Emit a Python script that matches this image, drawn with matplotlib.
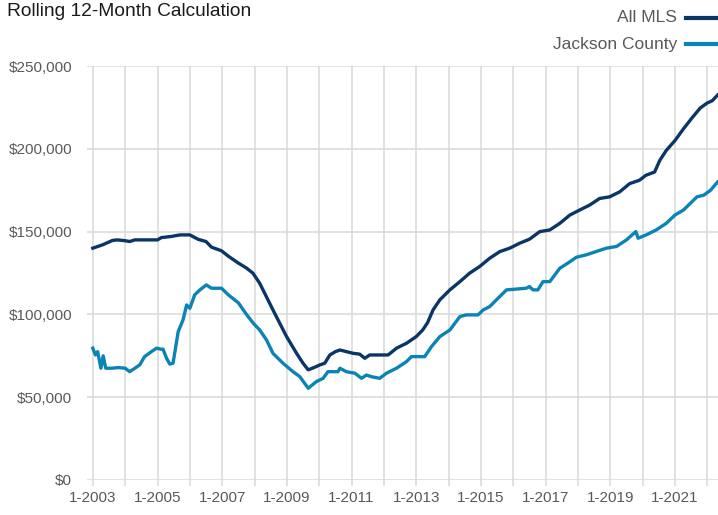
import matplotlib
matplotlib.use("Agg")
import matplotlib.pyplot as plt
from matplotlib.lines import Line2D
from matplotlib.ticker import FuncFormatter, MultipleLocator

plt.rcParams['font.family'] = ['Liberation Sans', 'DejaVu Sans']

title = "Rolling 12-Month Calculation"
series_names = ["All MLS", "Jackson County"]
colors = ["#0b3566", "#0a84b5"]

mls_x = [2003.0, 2003.3, 2003.6, 2003.75, 2004.0, 2004.14, 2004.3, 2004.6, 2005.0, 2005.12,
         2005.4, 2005.7, 2006.0, 2006.25, 2006.5, 2006.67, 2006.98, 2007.2, 2007.5, 2007.75,
         2007.95, 2008.16, 2008.57, 2008.99, 2009.3, 2009.5, 2009.66, 2009.85, 2010.02, 2010.17,
         2010.33, 2010.5, 2010.64, 2011.05, 2011.25, 2011.41, 2011.56, 2012.13, 2012.39, 2012.7,
         2013.0, 2013.2, 2013.35, 2013.52, 2013.73, 2014.04, 2014.35, 2014.65, 2014.96, 2015.27,
         2015.58, 2015.89, 2016.2, 2016.5, 2016.82, 2017.13, 2017.44, 2017.75, 2018.05, 2018.36,
         2018.67, 2018.98, 2019.29, 2019.6, 2019.9, 2020.1, 2020.37, 2020.53, 2020.73, 2021.0,
         2021.26, 2021.52, 2021.78, 2021.99, 2022.15, 2022.32]
mls_v = [140.0, 142.0, 144.6, 145.0, 144.5, 144.0, 145.0, 145.0, 145.0, 146.4,
         147.0, 148.0, 148.0, 145.4, 144.0, 140.6, 138.4, 135.0, 131.0, 128.0,
         124.9, 118.8, 102.7, 86.6, 76.5, 70.5, 66.5, 68.0, 69.5, 70.5,
         75.5, 77.5, 78.5, 76.5, 76.0, 73.5, 75.5, 75.5, 79.6, 82.6,
         86.6, 90.6, 95.0, 102.7, 108.8, 114.8, 119.8, 124.9, 128.9, 133.9,
         137.9, 140.0, 143.0, 145.4, 150.0, 151.0, 155.0, 160.0, 163.0, 166.0,
         170.0, 171.0, 174.0, 179.0, 181.0, 184.0, 186.0, 193.0, 199.0, 205.0,
         212.0, 218.5, 224.6, 227.6, 229.0, 232.5]

jc_x = [2003.0, 2003.08, 2003.15, 2003.25, 2003.32, 2003.4, 2003.6, 2003.78, 2004.0, 2004.14,
        2004.3, 2004.45, 2004.6, 2004.81, 2004.97, 2005.1, 2005.17, 2005.28, 2005.38, 2005.48,
        2005.64, 2005.79, 2005.9, 2006.0, 2006.15, 2006.31, 2006.51, 2006.67, 2006.98, 2007.19,
        2007.5, 2007.75, 2007.96, 2008.16, 2008.37, 2008.57, 2008.88, 2009.19, 2009.4, 2009.66,
        2009.91, 2010.12, 2010.27, 2010.58, 2010.64, 2010.84, 2011.1, 2011.31, 2011.46, 2011.61,
        2011.87, 2012.08, 2012.39, 2012.7, 2012.85, 2013.26, 2013.47, 2013.73, 2014.04, 2014.35,
        2014.55, 2014.91, 2015.07, 2015.27, 2015.48, 2015.79, 2016.4, 2016.5, 2016.61, 2016.76,
        2016.92, 2017.13, 2017.44, 2017.69, 2017.95, 2018.26, 2018.57, 2018.88, 2019.19, 2019.5,
        2019.79, 2019.86, 2020.11, 2020.42, 2020.73, 2021.0, 2021.26, 2021.47, 2021.68, 2021.89,
        2022.1, 2022.32]
jc_v = [79.6, 75.5, 77.5, 67.5, 75.0, 67.5, 67.5, 67.9, 67.5, 65.4,
        67.5, 69.5, 74.5, 77.5, 79.6, 79.0, 79.0, 73.5, 70.0, 70.5,
        89.6, 96.7, 105.7, 103.7, 111.8, 114.8, 117.8, 115.8, 115.8, 111.8,
        107.0, 100.0, 94.7, 90.6, 84.6, 76.5, 70.5, 65.4, 62.4, 55.4,
        59.4, 61.4, 65.4, 65.4, 67.5, 65.4, 64.5, 61.4, 63.4, 62.4,
        61.4, 64.5, 67.5, 71.5, 74.5, 74.5, 80.5, 86.6, 90.6, 98.7,
        99.7, 99.7, 102.7, 104.7, 108.8, 114.8, 115.8, 116.8, 114.8, 114.8,
        119.8, 119.8, 127.9, 131.0, 134.5, 136.0, 138.0, 140.0, 141.0, 145.0,
        150.0, 146.0, 148.0, 151.0, 155.0, 160.0, 163.0, 167.0, 171.0, 172.0,
        175.0, 180.0]

years = list(range(2003, 2023))
label_years = list(range(2003, 2022, 2))

fig = plt.figure(figsize=(7.18, 5.15), dpi=100)
ax = fig.add_axes([87/718, 1 - 480/515, 1 - 87/718, (480 - 66)/515])

grid_c = "#d9d9d9"
ax.plot(mls_x, [v * 1000 for v in mls_v], color=colors[0], lw=2.4, solid_joinstyle='round', zorder=3)
ax.plot(jc_x, [v * 1000 for v in jc_v], color=colors[1], lw=2.4, solid_joinstyle='round', zorder=3)

ax.set_xlim(2002.82, 2022.33)
ax.set_ylim(0, 250000)
ax.yaxis.set_major_locator(MultipleLocator(50000))
ax.yaxis.set_major_formatter(FuncFormatter(lambda v, p: f"${int(v):,}"))
ax.set_xticks(years)
ax.set_xticklabels([f"1-{y}" if y in label_years else "" for y in years])
ax.grid(True, color=grid_c, lw=1.1)
ax.set_axisbelow(True)
for s in ax.spines.values():
    s.set_visible(False)
ax.tick_params(axis='x', length=4.3, width=1.1, color=grid_c, labelsize=11, labelcolor="#595959", pad=3.5)
ax.tick_params(axis='y', length=0, labelsize=11, labelcolor="#595959", pad=10.8)

fig.text(7/718, 1 - 12/515, title, fontsize=13.8, color="#1a1a1a", va='center', ha='left')

for i, (name, c) in enumerate(zip(series_names, colors)):
    yc = 1 - (18 + 26 * i) / 515
    fig.text(677/718, yc, name, fontsize=12.5, color="#595959", ha='right', va='center')
    fig.add_artist(Line2D([686/718, 716/718], [yc, yc], color=c, lw=3, transform=fig.transFigure))

fig.savefig("out.png", dpi=100)
